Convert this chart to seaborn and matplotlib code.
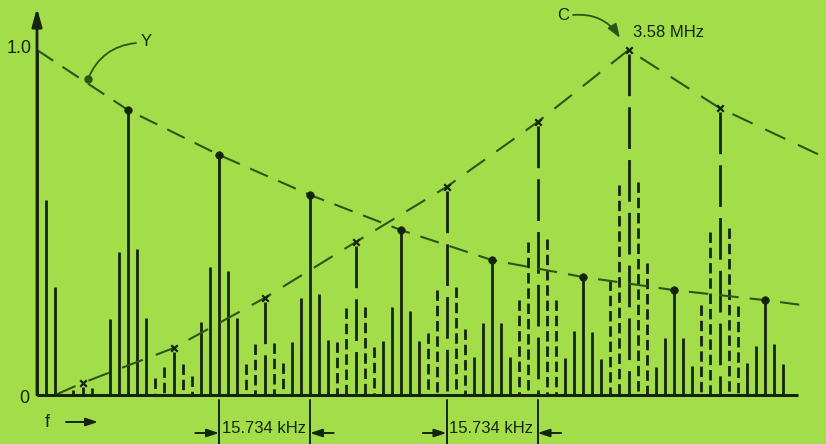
"""
NTSC spectrum sketch: luminance (Y) line-rate clusters interleaved with
chrominance (C) clusters around the 3.58 MHz subcarrier.
"""

import matplotlib
matplotlib.use("Agg")
import matplotlib.pyplot as plt
import numpy as np
import pandas as pd
import seaborn as sns


# --- data (frequency in units of the line-rate cluster spacing) ---------------
luma_harmonic = [0, 1, 2, 3, 4, 5, 6, 7, 8]
luma_center = [1.0, 0.826, 0.696, 0.580, 0.478, 0.391, 0.342, 0.304, 0.275]
luma_side1_lo = [np.nan, 0.414, 0.371, 0.281, 0.255, 0.209, 0.186, 0.165, 0.142]
luma_side1_hi = [0.565, 0.423, 0.359, 0.293, 0.243, 0.209, 0.183, 0.165, 0.148]
luma_side2_lo = [np.nan, 0.220, 0.212, 0.154, 0.157, 0.110, 0.107, 0.081, 0.093]
luma_side2_hi = [0.313, 0.223, 0.223, 0.159, 0.157, 0.110, 0.104, 0.084, 0.090]

chroma_harmonic = [0.5, 1.5, 2.5, 3.5, 4.5, 5.5, 6.5, 7.5]
chroma_center = [0.035, 0.136, 0.281, 0.443, 0.603, 0.791, 1.0, 0.832]
chroma_side1_lo = [0.014, 0.081, 0.148, 0.252, 0.304, 0.443, 0.609, 0.472]
chroma_side1_hi = [0.020, 0.090, 0.151, 0.255, 0.313, 0.452, 0.617, 0.484]
chroma_side2_lo = [np.nan, 0.049, 0.090, 0.154, 0.180, 0.275, 0.333, 0.260]
chroma_side2_hi = [np.nan, 0.055, 0.093, 0.139, 0.191, 0.275, 0.383, 0.258]

SIDEBAND = 0.1  # spacing of the sideband lines inside a cluster

# envelope ends that run past the last cluster
y_env_tail_f, y_env_tail_a = 8.4, 0.261
c_env_start_f, c_env_start_a = 0.2, 0.0
c_env_tail_f, c_env_tail_a = 8.67, 0.687

SPAN_LABEL = "15.734 kHz"
SUBCARRIER_LABEL = "3.58 MHz"

# --- style ------------------------------------------------------------------
BG = "#a3de4a"
INK = "#15240d"
CURVE = "#2c5519"

sns.set_theme(style="white", rc={"lines.scale_dashes": False})
plt.rcParams["font.family"] = ["Liberation Sans", "DejaVu Sans"]


def px(x, y):
    """pixel position of the original drawing -> data coordinates"""
    return (x - 37) / 91, (395 - y) / 345


def cluster_lines(centers, heights, side1_lo, side1_hi, side2_lo, side2_hi):
    rows = []
    for f, c, a, b, d, e in zip(centers, heights, side1_lo, side1_hi, side2_lo, side2_hi):
        for k, h in ((-2, d), (-1, a), (0, c), (1, b), (2, e)):
            if not np.isnan(h):
                rows.append({"f": f + k * SIDEBAND, "amp": h, "center": k == 0})
    return pd.DataFrame(rows)


luma = cluster_lines(luma_harmonic, luma_center, luma_side1_lo, luma_side1_hi,
                     luma_side2_lo, luma_side2_hi)
chroma = cluster_lines(chroma_harmonic, chroma_center, chroma_side1_lo, chroma_side1_hi,
                       chroma_side2_lo, chroma_side2_hi)

env = pd.concat([
    pd.DataFrame({"f": luma_harmonic + [y_env_tail_f],
                  "amp": luma_center + [y_env_tail_a], "signal": "Y"}),
    pd.DataFrame({"f": [c_env_start_f] + chroma_harmonic + [c_env_tail_f],
                  "amp": [c_env_start_a] + chroma_center + [c_env_tail_a], "signal": "C"}),
], ignore_index=True)

fig = plt.figure(figsize=(8.26, 4.44), dpi=100, facecolor=BG)
ax = fig.add_axes([0, 0, 1, 1])
ax.set_facecolor(BG)
ax.set_xlim(px(0, 0)[0], px(826, 0)[0])
ax.set_ylim(px(0, 444)[1], px(0, 0)[1])
ax.axis("off")

# luminance lines: solid
ax.vlines(luma["f"], 0, luma["amp"], color=INK, lw=2.0)

# chrominance lines: dashed, drawn from the top down
side = chroma[~chroma["center"]]
ax.vlines(side["f"], side["amp"], 0, color=INK, lw=2.0, linestyles=[(0, (7.5, 3.5))])
cen = chroma[chroma["center"]]
ax.vlines(cen["f"], cen["amp"] - 0.012, 0, color=INK, lw=2.0, linestyles=[(0, (30, 8))])

# envelopes
sns.lineplot(data=env, x="f", y="amp", style="signal",
             dashes={"Y": (14, 8), "C": (16, 10)}, color=CURVE, lw=1.5,
             estimator=None, sort=False, legend=False, ax=ax)

# peak markers
sns.scatterplot(x=luma_harmonic[1:], y=luma_center[1:], color=INK, s=30,
                edgecolor=INK, ax=ax, zorder=5)
sns.scatterplot(x=chroma_harmonic, y=chroma_center, marker="x", color=INK, s=22,
                linewidth=1.6, ax=ax, zorder=5)

# baseline and vertical axis
ax.plot([0, luma_harmonic[-1] + 2 * SIDEBAND + 0.16], [0, 0], color=INK, lw=2.2,
        solid_capstyle="butt")
ax.annotate("", xy=px(37, 8), xytext=(0, 0),
            arrowprops=dict(arrowstyle="-|>,head_length=0.9,head_width=0.25",
                            lw=2.0, color=INK, shrinkA=0, shrinkB=0))

ax.text(*px(19, 48), "1.0", ha="center", va="center", fontsize=13, color=INK)
ax.text(*px(24, 398), "0", ha="center", va="center", fontsize=13, color=INK)
ax.text(*px(47, 422), "f", ha="center", va="center", fontsize=13, color=INK)
ax.annotate("", xy=px(98, 422), xytext=px(66, 422),
            arrowprops=dict(arrowstyle="-|>,head_length=0.6,head_width=0.2",
                            lw=1.4, color=INK, shrinkA=0, shrinkB=0))

# Y label with leader to its envelope
ax.text(*px(146, 42), "Y", ha="center", va="center", fontsize=12, color=INK)
ax.annotate("", xy=px(88, 79), xytext=px(136, 43),
            arrowprops=dict(arrowstyle="-", lw=1.3, color=CURVE, shrinkA=0, shrinkB=0,
                            connectionstyle="arc3,rad=0.3"))
ax.plot(*px(88, 79), "o", color=CURVE, ms=5)

# C label with arrow to the subcarrier peak
ax.text(*px(563, 15), "C", ha="center", va="center", fontsize=12, color=INK)
ax.annotate("", xy=px(620, 38), xytext=px(573, 15),
            arrowprops=dict(arrowstyle="-|>,head_length=0.7,head_width=0.25", lw=1.3,
                            color=CURVE, shrinkA=0, shrinkB=0,
                            connectionstyle="arc3,rad=-0.3"))
ax.text(*px(633, 33), SUBCARRIER_LABEL, ha="left", va="center", fontsize=12, color=INK)

# spacing dimensions
for lo, hi in ((luma_harmonic[2], luma_harmonic[3]), (chroma_harmonic[4], chroma_harmonic[5])):
    for f in (lo, hi):
        ax.plot([f, f], [px(0, 400)[1], px(0, 444)[1]], color=INK, lw=1.4)
    y_dim = px(0, 433)[1]
    ax.annotate("", xy=(lo, y_dim), xytext=(lo - 0.26, y_dim),
                arrowprops=dict(arrowstyle="-|>,head_length=0.6,head_width=0.2",
                                lw=1.4, color=INK, shrinkA=0, shrinkB=0))
    ax.annotate("", xy=(hi, y_dim), xytext=(hi + 0.26, y_dim),
                arrowprops=dict(arrowstyle="-|>,head_length=0.6,head_width=0.2",
                                lw=1.4, color=INK, shrinkA=0, shrinkB=0))
    ax.text(lo + 0.03, px(0, 428)[1], SPAN_LABEL, ha="left", va="center",
            fontsize=12, color=INK)

fig.savefig("out.png", dpi=100, facecolor=BG)
